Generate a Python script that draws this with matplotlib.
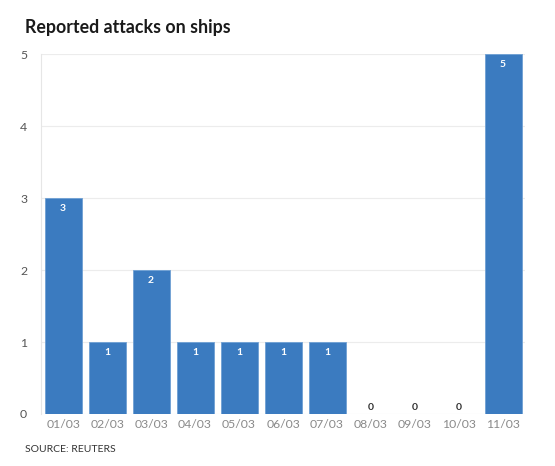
import matplotlib.pyplot as plt
import numpy as np

dates = ['01/03', '02/03', '03/03', '04/03', '05/03', '06/03', '07/03',
         '08/03', '09/03', '10/03', '11/03']
attacks = [3, 1, 2, 1, 1, 1, 1, 0, 0, 0, 5]

BAR_COLOR = '#3b7bc0'
plt.rcParams['font.family'] = ['Lato', 'DejaVu Sans']

fig = plt.figure(figsize=(5.55, 4.66), dpi=100)
ax = fig.add_axes([0.074, 0.1116, 0.872, 0.7724])

x = np.arange(len(dates))
ax.bar(x, attacks, width=0.84, color=BAR_COLOR, edgecolor='#6fa0d4', linewidth=0.6, zorder=3)

# value labels: inside the bar top, or just above the baseline for zeros
for xi, v in zip(x, attacks):
    if v > 0:
        ax.text(xi, v - 0.08, str(v), ha='center', va='top', color='white',
                fontsize=7.5, fontweight='bold', zorder=4)
    else:
        ax.text(xi, 0.03, str(v), ha='center', va='bottom', color='#333333',
                fontsize=7.5, fontweight='bold', zorder=4)

ax.set_xlim(-0.5, len(dates) - 0.5)
ax.set_ylim(0, 5)
ax.set_yticks(range(6))
ax.set_xticks(x)
ax.set_xticklabels(dates)
ax.tick_params(axis='both', length=0, labelsize=8.8, colors='#8a8a8a')
ax.tick_params(axis='y', pad=10, colors='#555555')
ax.grid(axis='y', color='#ececec', linewidth=0.8, zorder=0)
for s in ['top', 'right', 'bottom']:
    ax.spines[s].set_visible(False)
ax.spines['left'].set_color('#e6e6e6')
ax.spines['left'].set_linewidth(0.8)

fig.text(25 / 555, 1 - 28 / 466, 'Reported attacks on ships', fontsize=12.8,
         fontweight='bold', color='#1a1a1a', va='center', ha='left')
fig.text(25 / 555, 1 - 449 / 466, 'SOURCE: REUTERS', fontsize=7.5,
         color='#333333', va='center', ha='left')

fig.savefig('out.png', dpi=100)
